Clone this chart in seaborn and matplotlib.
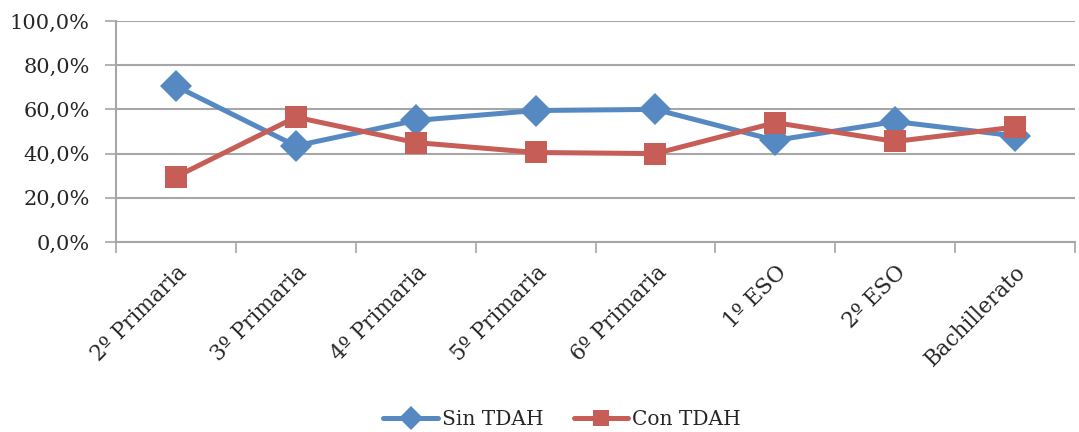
import matplotlib
matplotlib.use("Agg")
import matplotlib.pyplot as plt
import seaborn as sns
import pandas as pd
from matplotlib.ticker import FixedLocator, FuncFormatter

cursos = ["2º Primaria", "3º Primaria", "4º Primaria", "5º Primaria",
          "6º Primaria", "1º ESO", "2º ESO", "Bachillerato"]
sin_tdah = [70.5, 43.5, 55.0, 59.5, 60.0, 46.0, 54.5, 48.0]
con_tdah = [29.5, 56.5, 45.0, 40.5, 40.0, 54.0, 45.5, 52.0]
series = ["Sin TDAH", "Con TDAH"]
y_ticks = [0, 20, 40, 60, 80, 100]

df = pd.concat([
    pd.DataFrame({"curso": cursos, "valor": sin_tdah, "grupo": series[0]}),
    pd.DataFrame({"curso": cursos, "valor": con_tdah, "grupo": series[1]}),
])

sns.set_style("white")
plt.rcParams["font.family"] = ["DejaVu Serif"]
grid_c = "#a6a6a6"
text_c = "#262626"

fig = plt.figure(figsize=(10.79, 4.32), dpi=100)
ax = fig.add_axes([0.1075, 0.4398, 0.8888, 0.5116])

palette = {series[0]: "#5689C2", series[1]: "#C65D57"}
markers = {series[0]: "D", series[1]: "s"}
sns.lineplot(data=df, x="curso", y="valor", hue="grupo", style="grupo",
             palette=palette, markers=markers, dashes=False, sort=False,
             linewidth=3.6, markersize=16, markeredgewidth=0, ax=ax,
             legend=False, zorder=3)

ax.set_xlim(-0.5, len(cursos) - 0.5)
ax.set_ylim(0, 100)
ax.set_xlabel("")
ax.set_ylabel("")

# y axis
ax.yaxis.set_major_locator(FixedLocator(y_ticks))
ax.yaxis.set_major_formatter(FuncFormatter(lambda v, p: f"{v:.1f}%".replace(".", ",")))
ax.grid(axis="y", color=grid_c, linewidth=1.5, zorder=0)
ax.tick_params(axis="y", which="major", direction="out", length=8, width=1.2,
               color=grid_c, labelsize=15, labelcolor=text_c, pad=11, left=True)

# x axis: labels at centres, tick marks at category boundaries
ax.set_xticks(range(len(cursos)))
ax.set_xticklabels(cursos, rotation=45, ha="right", rotation_mode="anchor")
ax.set_xticks([i - 0.5 for i in range(len(cursos) + 1)], minor=True)
ax.tick_params(axis="x", which="major", length=0, labelsize=15.5,
               labelcolor=text_c, pad=14)
ax.tick_params(axis="x", which="minor", direction="out", length=8, width=1.2,
               color=grid_c, bottom=True)

for side in ["top", "right"]:
    ax.spines[side].set_visible(False)
for side in ["left", "bottom"]:
    ax.spines[side].set_color(grid_c)
    ax.spines[side].set_linewidth(1.5)

handles = [plt.Line2D([], [], color=palette[s], marker=markers[s], markersize=12,
                      markeredgewidth=0, linewidth=3.6) for s in series]
fig.legend(handles, series, loc="lower center", bbox_to_anchor=(0.521, -0.036),
           ncol=2, frameon=False, fontsize=14.5, handlelength=2.7,
           handletextpad=0.2, columnspacing=1.5, labelcolor=text_c)

fig.savefig("out.png", dpi=100)
